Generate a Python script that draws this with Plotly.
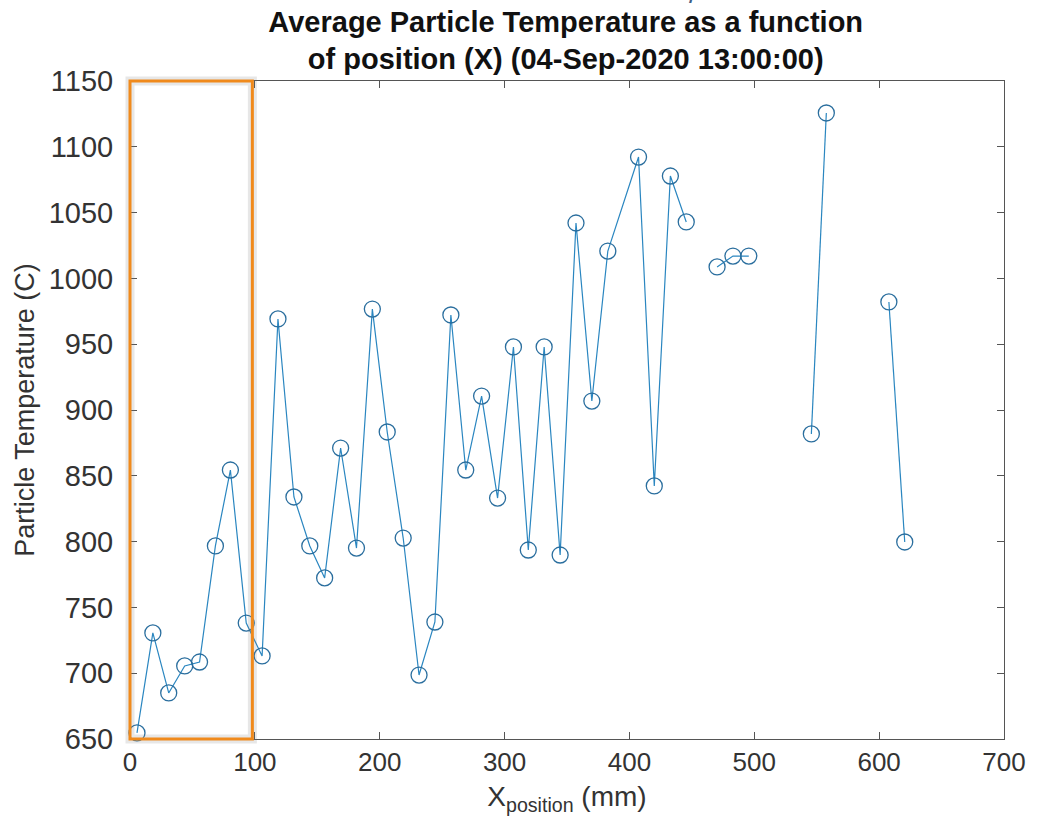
import plotly.graph_objects as go

# Average particle temperature vs. position (None = gap in the line)
x_position_mm = [5.6, 18.3, 31.0, 43.8, 55.7, 68.4, 80.4, 93.1, 105.8, 118.5,
                 131.3, 144.0, 155.9, 168.7, 181.4, 194.1, 206.0, 218.8, 231.5, 244.2,
                 257.0, 268.9, 281.6, 294.4, 307.1, 319.0, 331.7, 344.5, 357.2, 369.9,
                 382.7, 407.3, 419.9, 432.8, 445.5, None, 470.2, 482.9, 495.6, None,
                 545.7, 557.7, None, 607.8, 620.5]
temperature_c = [654.6, 730.6, 685.0, 705.5, 708.5, 796.7, 854.4, 738.1, 713.1, 969.2,
                 833.9, 796.7, 772.4, 871.1, 795.1, 976.7, 883.3, 802.7, 698.6, 738.9,
                 972.2, 854.4, 910.6, 833.1, 947.9, 793.6, 947.9, 789.8, 1042.1, 906.8,
                 1020.8, 1092.2, 842.3, 1077.8, 1042.9, None, 1008.7, 1017.0, 1017.0, None,
                 881.8, 1125.7, None, 982.1, 799.7]

x_ticks = [0, 100, 200, 300, 400, 500, 600, 700]
y_ticks = [650, 700, 750, 800, 850, 900, 950, 1000, 1050, 1100, 1150]
x_range = [0, 700]
y_range = [650, 1150]

# highlighted region (data units)
highlight_x = [0, 98]
highlight_y = [650, 1150]

title_text = ("<b>Average Particle Temperature as a function</b><br>"
              "<b>of position (X) (04-Sep-2020 13:00:00)</b>")

fig = go.Figure()
fig.add_trace(go.Scatter(
    x=x_position_mm, y=temperature_c, mode="lines+markers",
    connectgaps=False,
    line=dict(color="#2a86c0", width=1.2),
    marker=dict(symbol="circle-open", size=16, color="#2a6e9e",
                line=dict(width=1.3, color="#2a6e9e")),
    cliponaxis=False,
    showlegend=False,
))

def to_paper(v, r):
    return (v - r[0]) / (r[1] - r[0])

px0, px1 = to_paper(highlight_x[0], x_range), to_paper(highlight_x[1], x_range)
py0, py1 = to_paper(highlight_y[0], y_range), to_paper(highlight_y[1], y_range)

# soft grey shadow then orange frame
fig.add_shape(type="rect", xref="paper", yref="paper",
              x0=px0, x1=px1, y0=py0, y1=py1,
              line=dict(color="rgba(120,120,120,0.18)", width=9), layer="above")
fig.add_shape(type="rect", xref="paper", yref="paper",
              x0=px0, x1=px1, y0=py0, y1=py1,
              line=dict(color="#F08A1C", width=3), layer="above")

axis_common = dict(
    showgrid=False, zeroline=False, showline=True, linecolor="#555555",
    linewidth=1, mirror="ticks", ticks="inside", ticklen=7, tickcolor="#555555",
)
fig.update_xaxes(range=x_range, tickvals=x_ticks, ticktext=[str(t) for t in x_ticks],
                 tickfont=dict(family="Liberation Sans, Arial", size=26, color="#333333"),
                 title=dict(text="X<sub>position</sub> (mm)", standoff=10,
                            font=dict(family="Liberation Sans, Arial", size=28, color="#333333")),
                 **axis_common)
fig.update_yaxes(range=y_range, tickvals=y_ticks, ticktext=[str(t) for t in y_ticks],
                 tickfont=dict(family="Liberation Sans, Arial", size=29, color="#333333"),
                 ticklabelstandoff=10,
                 title=dict(text="Particle Temperature (C)", standoff=6,
                            font=dict(family="Liberation Sans, Arial", size=27, color="#333333")),
                 **axis_common)

fig.update_layout(
    width=1038, height=836,
    margin=dict(l=130, r=28, t=81, b=97),
    paper_bgcolor="white", plot_bgcolor="white",
    title=dict(text=title_text, x=0.545, xanchor="center", y=0.962, yanchor="top",
               font=dict(family="Liberation Sans, Arial", size=29, color="#111111")),
)

# cropped fragment of text at the top edge of the picture
fig.add_annotation(text="/", xref="paper", yref="paper", x=0.644, y=1.133,
                   xanchor="center", yanchor="middle", showarrow=False,
                   font=dict(family="Liberation Sans, Arial", size=28, color="#3f5f86"))

fig.write_html("out.html")
